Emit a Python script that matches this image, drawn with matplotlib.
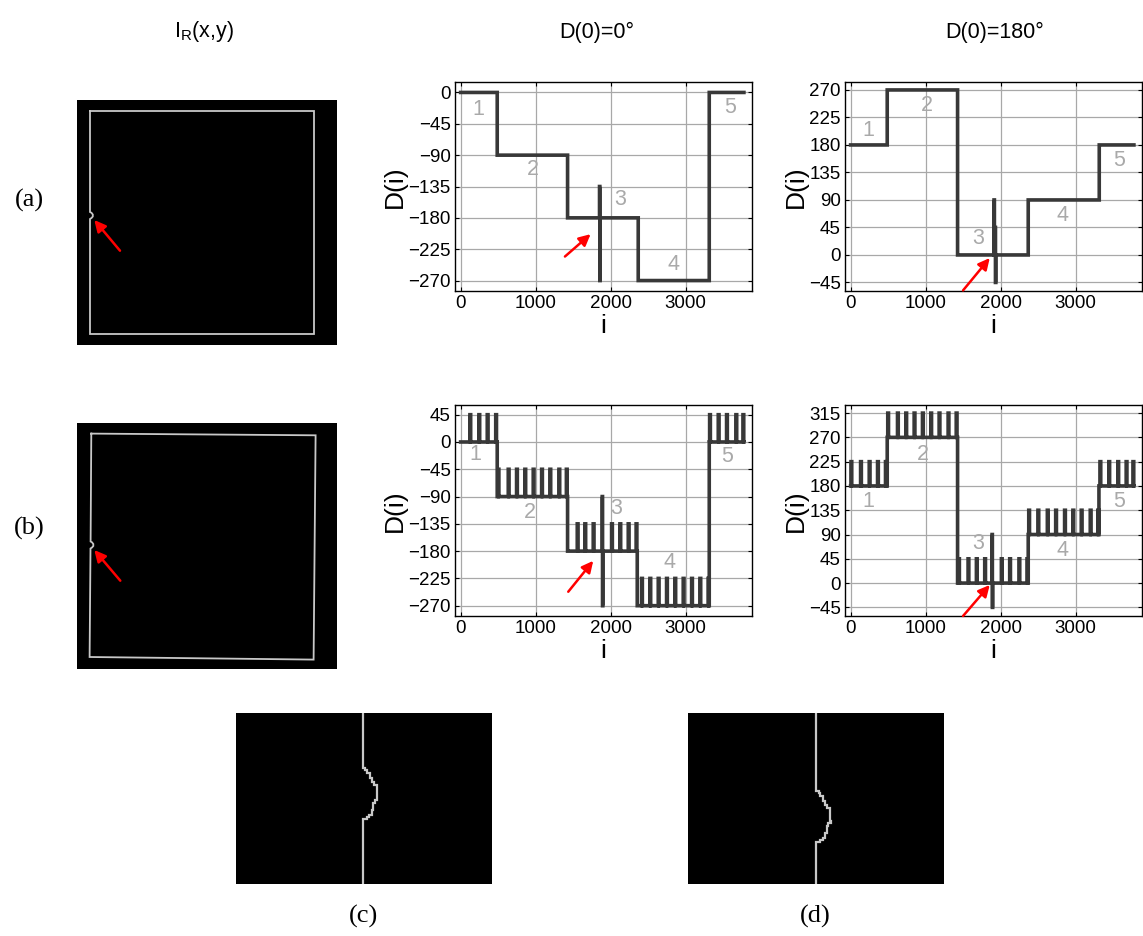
import numpy as np
import matplotlib
matplotlib.use("Agg")
import matplotlib.pyplot as plt

plt.rcParams['font.family'] = ['Liberation Sans', 'DejaVu Sans']

# ---------------- data ----------------
I_END = 3777
TOOTH = 45

# step edges (sample index where each level starts) and levels
a0_edges = [0, 488, 1426, 2368, 3315]
a0_levels = [0, -90, -180, -270, 0]
a0_teeth = []
a0_spikes = [(1852, 4, -135), (1856, 4, -270)]

a180_edges = [0, 488, 1426, 2368, 3315]
a180_levels = [180, 270, 0, 90, 180]
a180_teeth = []
a180_spikes = [(1912, 5, 90), (1928, 3, 45), (1931, 5, -45)]

b0_edges = [0, 488, 1426, 2355, 3315]
b0_levels = [0, -90, -180, -270, 0]
b0_teeth = [124, 244, 355, 468,
            500, 635, 746, 857, 968, 1080, 1191, 1311, 1410,
            1555, 1657, 1768, 2013, 2124, 2235, 2340,
            2413, 2524, 2635, 2746, 2857, 2968, 3080, 3191, 3300,
            3320, 3435, 3546, 3671, 3765]
b0_spikes = [(1888, 4, -90), (1892, 4, -270)]

b180_edges = [0, 488, 1426, 2368, 3311]
b180_levels = [180, 270, 0, 90, 180]
b180_teeth = [5, 133, 248, 359, 465,
              495, 625, 736, 847, 958, 1069, 1180, 1300, 1408,
              1440, 1566, 1677, 1788, 2010, 2121, 2245, 2352,
              2375, 2498, 2623, 2734, 2853, 2964, 3075, 3195, 3296,
              3325, 3443, 3563, 3674, 3765]
b180_spikes = [(1886, 4, 90), (1890, 4, -45)]

# y ticks and limits
a0_yticks = [0, -45, -90, -135, -180, -225, -270]
a180_yticks = [270, 225, 180, 135, 90, 45, 0, -45]
b0_yticks = [45, 0, -45, -90, -135, -180, -225, -270]
b180_yticks = [315, 270, 225, 180, 135, 90, 45, 0, -45]
x_ticks = [0, 1000, 2000, 3000]

# segment numbers (label, i, D)
seg_names = ['1', '2', '3', '4', '5']
a0_lab_i = [235, 968, 2124, 2835, 3591]
a0_lab_D = [-25, -111, -154, -247, -22]
a180_lab_i = [234, 1012, 1700, 2831, 3586]
a180_lab_D = [204, 245, 27, 65, 155]
b0_lab_i = [190, 924, 2080, 2790, 3547]
b0_lab_D = [-21, -117, -109, -199, -24]
b180_lab_i = [234, 967, 1700, 2831, 3586]
b180_lab_D = [151, 238, 74, 61, 151]

# red arrows (tail, tip) in data units
a0_arrow = ((1391, -235.5), (1733, -203.4))
a180_arrow = ((1499, -58), (1855, -5))
b0_arrow = ((1435, -247), (1768, -196))
b180_arrow = ((1499, -61), (1855, -3.5))

# contour images (pixel coordinates inside each image)
imgA_x = [13, 13, 14.5, 15.8, 15.8, 14.5, 13, 13, 237, 237, 13]
imgA_y = [11, 112, 112.8, 114.5, 116.5, 118, 119, 234, 234, 11, 11]
imgB_x = [14.3, 13.6, 15.0, 16.3, 16.3, 15.0, 13.5, 12.6, 236.6, 238.6, 14.3]
imgB_y = [10.6, 118.5, 119.3, 121, 123, 124.5, 125.5, 234, 236.6, 12.3, 10.6]
imgA_arrow = ((43, 150.7), (17.3, 120))
imgB_arrow = ((43.3, 157.7), (17.3, 127))

imgC_x = [126.7, 126.7, 129, 130.7, 134, 135.7, 138, 140.7, 141.3, 139, 137.3, 135.7, 133.3, 130.7, 126.7, 126.7]
imgC_y = [0, 53.7, 55.3, 57, 60.3, 65.3, 68.7, 72, 85.3, 87, 90.3, 97, 102, 104.3, 106.3, 171]
imgD_x = [128, 128, 130.5, 132, 135.3, 137, 139.3, 142, 142.6, 140.3, 138.6, 137, 134.6, 132, 128, 128]
imgD_y = [0, 76.5, 78, 80, 83.3, 88.3, 91.7, 95, 108.3, 110, 113.3, 120, 125, 127.3, 129.3, 171]

# ---------------- figure ----------------
W, H = 1143, 936
fig = plt.figure(figsize=(W / 100, H / 100), dpi=100)


def px_axes(x0, y0, x1, y1):
    return fig.add_axes([x0 / W, 1 - y1 / H, (x1 - x0) / W, (y1 - y0) / H])


def build(edges, levels, teeth, spikes):
    i = np.arange(0, I_END + 1)
    idx = np.searchsorted(edges, i, side='right') - 1
    base = np.asarray(levels, float)[idx]
    D = base.copy()
    for t in teeth:
        D[t:t + 10] = base[t] + TOOTH
    for s, w, v in spikes:
        D[s:s + w] = v
    return i, D


LINE = '#383838'
GRID = '#a8a8a8'
LABC = '#a9a9a9'


def dplot(box, edges, levels, teeth, spikes, yticks, ylim, lab_i, lab_D, arrow):
    ax = px_axes(*box)
    i, D = build(edges, levels, teeth, spikes)
    ax.plot(i, D, drawstyle='steps-post', color=LINE, lw=2.6,
            solid_joinstyle='miter', zorder=3)
    ax.set_xlim(-75, 3885)
    ax.set_ylim(*ylim)
    ax.set_xticks(x_ticks)
    ax.set_yticks(yticks)
    ax.grid(True, color=GRID, lw=0.9)
    ax.set_axisbelow(True)
    ax.tick_params(direction='in', top=True, right=True, length=3, width=0.8,
                   labelsize=13.5, pad=3)
    for sp in ax.spines.values():
        sp.set_linewidth(1.0)
        sp.set_color('black')
    ax.set_xlabel('i', fontsize=19, labelpad=1)
    ax.set_ylabel('D(i)', fontsize=19, labelpad=1)
    for n, xi, yi in zip(seg_names, lab_i, lab_D):
        ax.text(xi, yi, n, color=LABC, fontsize=15.5, ha='center', va='center', zorder=4)
    (tx, ty), (hx, hy) = arrow
    ax.annotate('', xy=(hx, hy), xytext=(tx, ty), annotation_clip=False,
                arrowprops=dict(arrowstyle='-|>', color='red', lw=1.8,
                                mutation_scale=17, shrinkA=0, shrinkB=0), zorder=5)
    return ax


dplot((455, 82, 752, 291), a0_edges, a0_levels, a0_teeth, a0_spikes,
      a0_yticks, (-285, 15), a0_lab_i, a0_lab_D, a0_arrow)
dplot((845, 82, 1142, 291), a180_edges, a180_levels, a180_teeth, a180_spikes,
      a180_yticks, (-59, 283), a180_lab_i, a180_lab_D, a180_arrow)
dplot((455, 405, 752, 616), b0_edges, b0_levels, b0_teeth, b0_spikes,
      b0_yticks, (-287, 61), b0_lab_i, b0_lab_D, b0_arrow)
dplot((845, 405, 1142, 616), b180_edges, b180_levels, b180_teeth, b180_spikes,
      b180_yticks, (-61, 330), b180_lab_i, b180_lab_D, b180_arrow)


def img_axes(box, xs, ys, arrow=None, lw=1.3, steps=False):
    x0, y0, x1, y1 = box
    ax = px_axes(*box)
    ax.set_facecolor('black')
    ax.plot(xs, ys, color='#c8c8c8', lw=lw, solid_joinstyle='miter',
            drawstyle='steps-pre' if steps else 'default')
    ax.set_xlim(0, x1 - x0)
    ax.set_ylim(y1 - y0, 0)
    ax.set_xticks([])
    ax.set_yticks([])
    for sp in ax.spines.values():
        sp.set_visible(False)
    if arrow is not None:
        (tx, ty), (hx, hy) = arrow
        ax.annotate('', xy=(hx, hy), xytext=(tx, ty),
                    arrowprops=dict(arrowstyle='-|>', color='red', lw=1.8,
                                    mutation_scale=17, shrinkA=0, shrinkB=0))
    return ax


img_axes((77, 100, 337, 345), imgA_x, imgA_y, imgA_arrow)
img_axes((77, 423, 337, 669), imgB_x, imgB_y, imgB_arrow)
img_axes((236, 713, 492, 884), imgC_x, imgC_y, lw=1.6, steps=True)
img_axes((688, 713, 944, 884), imgD_x, imgD_y, lw=1.6, steps=True)

# column titles
fig.text(204 / W, 1 - 32 / H, r'I$_\mathregular{R}$(x,y)', fontsize=15.5, ha='center', va='center')
fig.text(597 / W, 1 - 32 / H, 'D(0)=0°', fontsize=15.5, ha='center', va='center')
fig.text(995 / W, 1 - 32 / H, 'D(0)=180°', fontsize=15.5, ha='center', va='center')

# panel labels
serif = ['Liberation Serif', 'DejaVu Serif']
fig.text(29 / W, 1 - 200 / H, '(a)', fontsize=19, family=serif, ha='center', va='center')
fig.text(29 / W, 1 - 528 / H, '(b)', fontsize=19, family=serif, ha='center', va='center')
fig.text(363 / W, 1 - 916 / H, '(c)', fontsize=19, family=serif, ha='center', va='center')
fig.text(815 / W, 1 - 916 / H, '(d)', fontsize=19, family=serif, ha='center', va='center')

fig.savefig('out.png', dpi=100, facecolor='white')
